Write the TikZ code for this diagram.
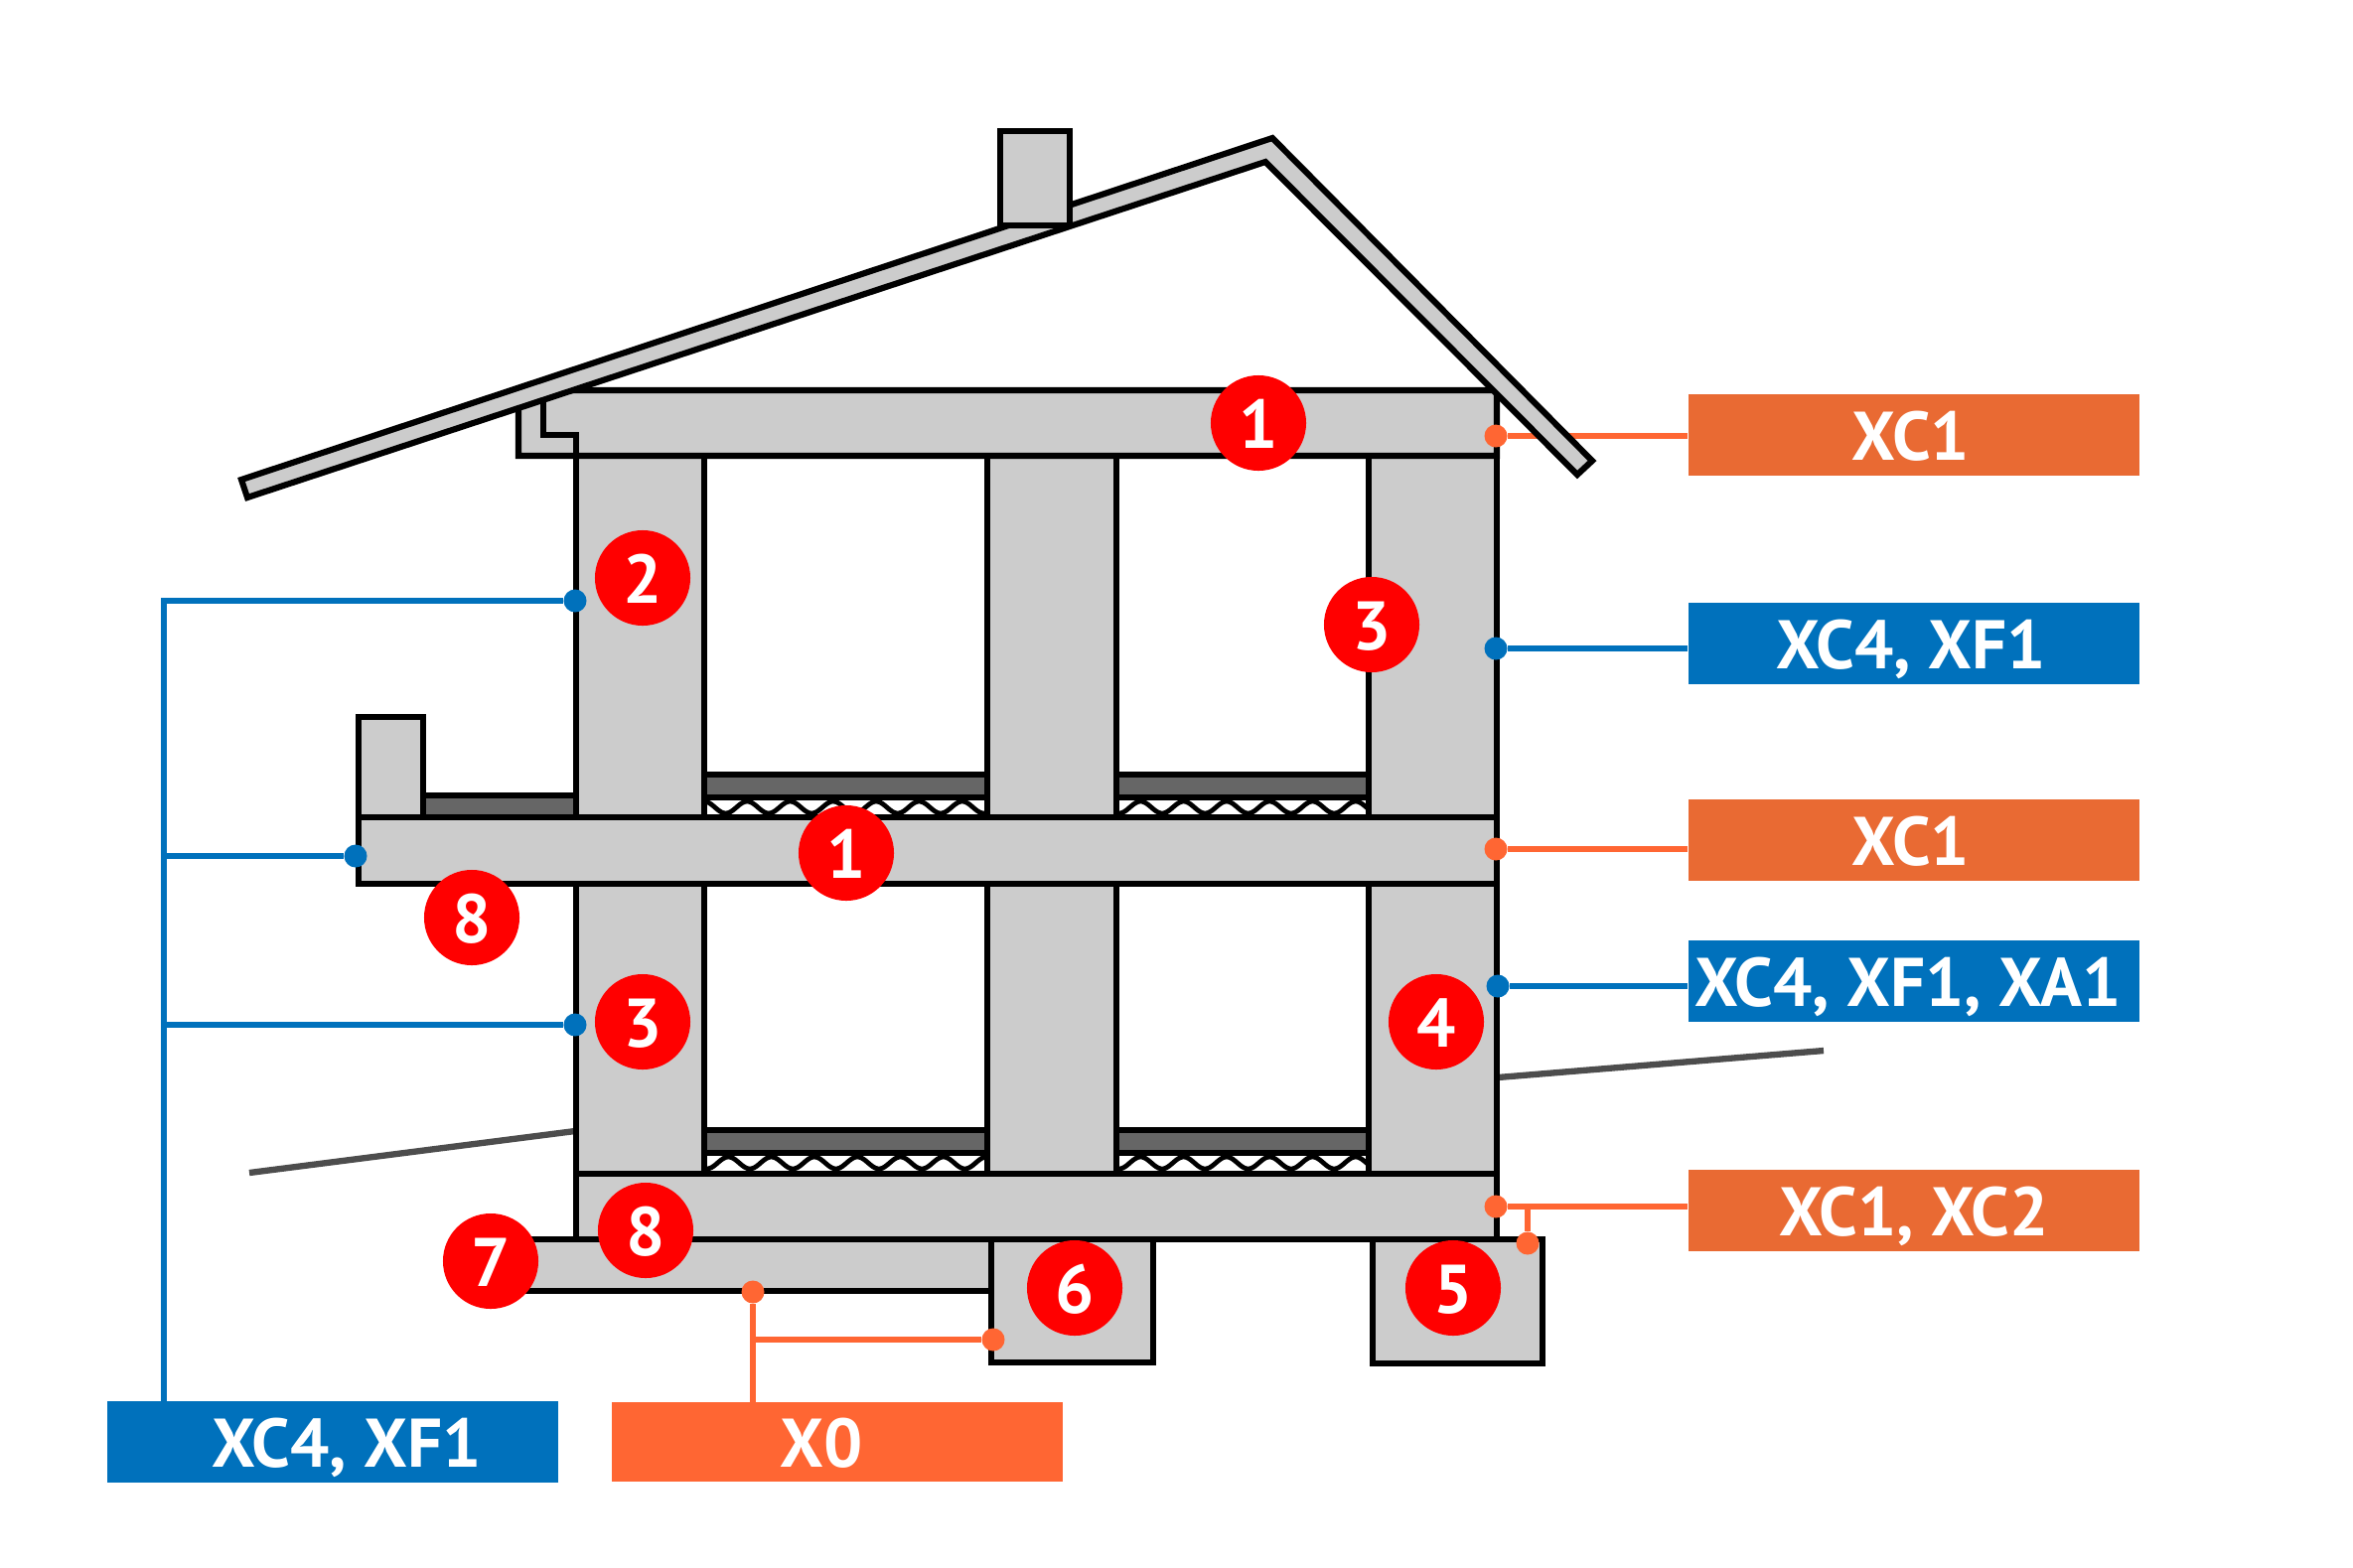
\documentclass[tikz,border=0pt]{standalone}
\usepackage{fontspec}
\setmainfont{PT Sans}
\definecolor{concrete}{HTML}{CCCCCC}
\definecolor{screed}{HTML}{666666}
\definecolor{groundgray}{HTML}{4D4D4D}
\definecolor{tagorange}{HTML}{E96A33}
\definecolor{pinorange}{HTML}{FF6633}
\definecolor{pinblue}{HTML}{0071BC}
\definecolor{markred}{HTML}{FF0000}
\tikzset{
  wall/.style={draw=black, fill=concrete, line width=1.75pt, line join=miter},
  layerline/.style={draw=black, line width=1.7pt},
  tagbox/.style={rectangle, minimum width=4.54cm, minimum height=0.82cm, inner sep=0pt, text=white,
    text height=0.5cm, text depth=0pt, font=\fontsize{19.7}{20}\selectfont\bfseries},
  markdot/.style={circle, fill=markred, minimum size=0.96cm, inner sep=0pt, text=white,
    text height=0.5cm, text depth=0pt, font=\fontsize{19.7}{20}\selectfont\bfseries},
  pin/.style={circle, fill=#1, minimum size=0.23cm, inner sep=0pt},
  link/.style={draw=#1, line width=1.6pt},
  groundline/.style={draw=groundgray, line width=1.8pt}
}
% one floor build-up: x from, x to, top of screed, wave phase
\newcommand{\floorlayers}[4]{
  \fill[screed] (#1,#3) rectangle (#2,#3+23);
  \begin{scope}
    \clip (#1,#3+23) rectangle (#2,#3+43);
    \draw[black, line width=1.35pt] plot[domain=#1:#2, samples=120, smooth] (\x,{#3+33+6*cos(8.314*(\x-#1-#4))});
  \end{scope}
  \draw[layerline] (#1,#3) -- (#2,#3);
  \draw[layerline] (#1,#3+23) -- (#2,#3+23);
}
\begin{document}
\begin{tikzpicture}[x=0.01cm, y=-0.01cm]
  \useasboundingbox (0,0) rectangle (2369,1578);

  % 1. ground lines
  \coordinate (groundL) at (251,1181);
  \coordinate (wallL) at (579,1139);
  \coordinate (wallR) at (1508,1085);
  \coordinate (groundR) at (1836,1058);
  \draw[groundline] (groundL) -- (wallL);
  \draw[groundline] (wallR) -- (groundR);

  % 2. footings and strip under the ground slab
  \draw[wall] (525,1248) -- (998,1248) -- (998,1300) -- (525,1300);
  \draw[wall] (998,1248) rectangle (1161,1372);
  \draw[wall] (1382,1248) rectangle (1553,1373);

  % 3. floor build-ups
  \foreach \roomL/\roomR/\phase/\phaseLow in {709/994/21.6/2.7, 1124/1378/2.7/2.7}{
    \floorlayers{\roomL}{\roomR}{780}{\phase}
    \floorlayers{\roomL}{\roomR}{1138}{\phaseLow}
  }

  % 4. columns of both storeys
  \foreach \colL/\colR in {580/709, 994/1124, 1378/1507}{
    \draw[wall] (\colL,459) rectangle (\colR,823);
    \draw[wall] (\colR,890) -- (\colR,1182) -- (\colL,1182) -- (\colL,890) -- cycle;
  }

  % 5. balcony with parapet
  \fill[screed] (426,801) rectangle (580,823);
  \draw[layerline] (426,801) -- (580,801);
  \draw[wall] (361,722) rectangle (426,823);
  \draw[wall] (580,459) -- (580,823);

  % 6. slabs
  \draw[wall] (361,823) rectangle (1507,890);
  \draw[wall] (580,1182) rectangle (1507,1248);
  \draw[wall] (522,405) -- (522,459) -- (1507,459) -- (1507,393) -- (560,393) -- cycle;
  \draw[layerline] (547,405) -- (547,438) -- (580,438) -- (580,459);

  % 7. exposure class tags
  \node[tagbox, fill=tagorange] (tagRoof) at (1927,438) {\hspace*{-0.06cm}XC1};
  \node[tagbox, fill=pinblue] (tagWallUp) at (1927,648) {\hspace*{-0.06cm}XC4, XF1};
  \node[tagbox, fill=tagorange] (tagSlab) at (1927,846) {\hspace*{-0.06cm}XC1};
  \node[tagbox, fill=pinblue] (tagWallLow) at (1927,988) {\hspace*{-0.12cm}XC4, XF1, XA1};
  \node[tagbox, fill=tagorange] (tagBase) at (1927,1219) {XC1, XC2};
  \node[tagbox, fill=pinblue] (tagLeft) at (335,1452) {\hspace*{0.28cm}XC4, XF1};
  \node[tagbox, fill=pinorange, minimum height=0.79cm] (tagFoot) at (843,1452) {\hspace*{-0.32cm}X0};

  % 8. pins
  \node[pin=pinorange] (pinRoof) at (1506,439) {};
  \node[pin=pinblue] (pinWallUp) at (1506,653) {};
  \node[pin=pinorange] (pinSlab) at (1506,855) {};
  \node[pin=pinblue] (pinWallLow) at (1508,993) {};
  \node[pin=pinorange] (pinBase) at (1506,1215) {};
  \node[pin=pinorange] (pinFive) at (1538,1252) {};
  \node[pin=pinorange] (pinStrip) at (758,1301) {};
  \node[pin=pinorange] (pinSix) at (1000,1349) {};
  \node[pin=pinblue] (pinColUp) at (579,605) {};
  \node[pin=pinblue] (pinBalcony) at (358,862) {};
  \node[pin=pinblue] (pinColLow) at (579,1032) {};

  % 9. connectors
  \coordinate (trunkEnd) at (165,1412);
  \coordinate (stripEnd) at (758,1412);
  \draw[link=pinorange] (pinRoof) -- (pinRoof -| tagRoof.west);
  \draw[link=pinblue] (pinWallUp) -- (pinWallUp -| tagWallUp.west);
  \draw[link=pinorange] (pinSlab) -- (pinSlab -| tagSlab.west);
  \draw[link=pinblue] (pinWallLow) -- (pinWallLow -| tagWallLow.west);
  \draw[link=pinorange] (pinBase) -- (pinBase -| tagBase.west);
  \draw[link=pinorange] (pinBase -| pinFive) -- (pinFive);
  \draw[link=pinorange] (pinStrip) -- (stripEnd);
  \draw[link=pinorange] (pinSix) -- (pinSix -| pinStrip);
  \draw[link=pinblue] (pinColUp) -| (trunkEnd);
  \draw[link=pinblue] (pinBalcony) -- (pinBalcony -| trunkEnd);
  \draw[link=pinblue] (pinColLow) -- (pinColLow -| trunkEnd);

  % 10. roof and chimney go over the rest
  \draw[wall] (243,483) -- (1281,139) -- (1603,464) -- (1588,478) -- (1274,163) -- (249,501) -- cycle;
  \draw[wall] (1007,132) rectangle (1077,227);

  % 11. element numbers
  \node[markdot] (markA) at (1267,426) {1};
  \node[markdot] (markB) at (647,582) {2};
  \node[markdot] (markC) at (1381,629) {3};
  \node[markdot] (markD) at (852,859) {1};
  \node[markdot] (markE) at (475,924) {8};
  \node[markdot] (markF) at (647,1029) {3};
  \node[markdot] (markG) at (1446,1029) {4};
  \node[markdot] (markH) at (494,1270) {7};
  \node[markdot] (markI) at (650,1239) {8};
  \node[markdot] (markJ) at (1082,1297) {6};
  \node[markdot] (markK) at (1463,1297) {5};
\end{tikzpicture}
\end{document}
